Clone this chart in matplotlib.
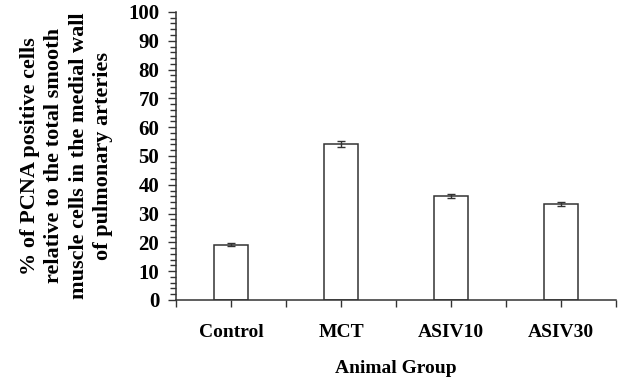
import matplotlib
matplotlib.use("Agg")
import matplotlib.pyplot as plt
from matplotlib.ticker import MultipleLocator

categories = ["Control", "MCT", "ASIV10", "ASIV30"]
values = [19.2, 54.1, 36.0, 33.4]
errors = [0.5, 1.0, 0.7, 0.6]

plt.rcParams['font.family'] = ['Liberation Serif', 'DejaVu Serif']
plt.rcParams['font.weight'] = 'bold'

fig = plt.figure(figsize=(6.18, 3.81), dpi=100)
ax = fig.add_axes([0.2848, 0.2126, 0.712, 0.756])

x = list(range(len(categories)))
ax.bar(x, values, width=0.31, color='white', edgecolor='#333333', linewidth=1.1,
       yerr=errors, capsize=3, error_kw=dict(ecolor='#333333', elinewidth=1.0, capthick=1.0))

ax.set_xlim(-0.5, 3.5)
ax.set_ylim(0, 100)
ax.yaxis.set_major_locator(MultipleLocator(10))
ax.yaxis.set_minor_locator(MultipleLocator(2))
ax.set_xticks(x)
ax.set_xticklabels(categories, fontsize=14, fontweight='bold')
ax.set_xticks([-0.5, 0.5, 1.5, 2.5, 3.5], minor=True)
ax.tick_params(axis='x', which='both', length=5, width=1, color='#333333', pad=12)
ax.tick_params(axis='y', which='major', length=6, width=1, color='#333333', labelsize=15, pad=6)
ax.tick_params(axis='y', which='minor', length=4, width=1, color='#333333')
for lbl in ax.get_yticklabels():
    lbl.set_fontweight('bold')

for s in ['top', 'right']:
    ax.spines[s].set_visible(False)
for s in ['left', 'bottom']:
    ax.spines[s].set_color('#333333')
    ax.spines[s].set_linewidth(1.1)

ax.set_xlabel("Animal Group", fontsize=14, fontweight='bold', labelpad=14)
ax.set_ylabel("% of PCNA positive cells\nrelative to the total smooth\nmuscle cells in the medial wall\nof pulmonary arteries",
              fontsize=16, fontweight='bold', linespacing=1.3)
ax.yaxis.set_label_coords(-0.143, 0.5)

fig.savefig("out.png", dpi=100)
